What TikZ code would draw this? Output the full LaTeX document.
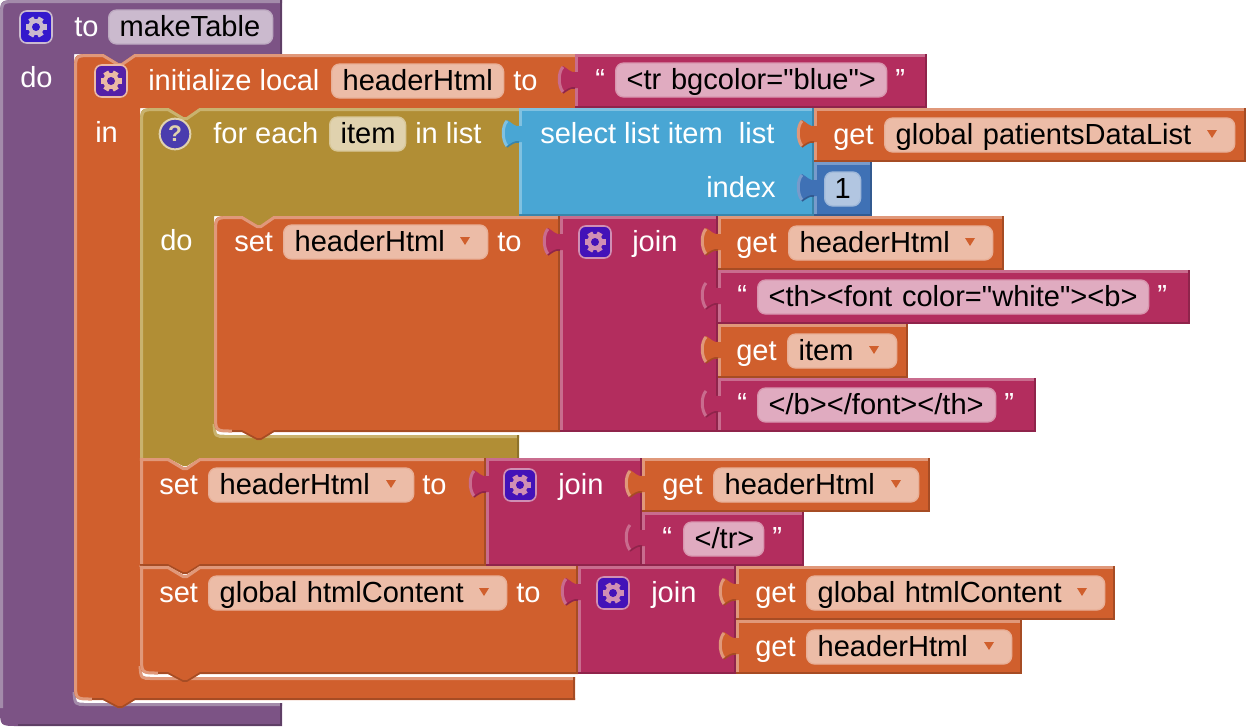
\documentclass[tikz,border=0pt]{standalone}
\usepackage{fontspec}
\newfontfamily\blockfamily{Liberation Sans}

\definecolor{purpleF}{HTML}{7C5385}
\definecolor{purpleL}{HTML}{A38BAA}
\definecolor{purpleD}{HTML}{5F3F66}
\definecolor{orangeF}{HTML}{D05F2D}
\definecolor{orangeL}{HTML}{E0987A}
\definecolor{orangeD}{HTML}{A64C24}
\definecolor{oliveF}{HTML}{B18E35}
\definecolor{oliveL}{HTML}{C9B26E}
\definecolor{oliveD}{HTML}{8E722A}
\definecolor{blueF}{HTML}{49A6D4}
\definecolor{blueL}{HTML}{80C1E1}
\definecolor{blueD}{HTML}{3A85AA}
\definecolor{pinkF}{HTML}{B32D5E}
\definecolor{pinkL}{HTML}{C96C8E}
\definecolor{pinkD}{HTML}{8F244B}
\definecolor{numberF}{HTML}{3F71B5}
\definecolor{numberL}{HTML}{789BCB}
\definecolor{numberD}{HTML}{325A90}
\definecolor{purpleField}{HTML}{CBBACE}
\definecolor{orangeField}{HTML}{ECBCA7}
\definecolor{oliveField}{HTML}{E0D2AE}
\definecolor{pinkField}{HTML}{E0ABC0}
\definecolor{numberField}{HTML}{B2C6E1}
\definecolor{gearPurple}{HTML}{3419CC}
\definecolor{gearOrange}{HTML}{5420A8}
\definecolor{gearPink}{HTML}{4312B8}
\definecolor{gearOrangeFg}{HTML}{EBBAA5}
\definecolor{gearPinkFg}{HTML}{D08FB4}
\definecolor{helpF}{HTML}{4A3CAE}

\newcommand{\blockfont}{\blockfamily\fontsize{21.8}{24}\selectfont}

\tikzset{
	blocklabel/.style={text=white,font=\blockfont,inner sep=0pt,text height=14.5pt,text depth=0pt,anchor=west},
	fieldtext/.style={text=black,font=\blockfont,inner xsep=0pt,inner ysep=0pt,text height=14.5pt,text depth=0pt,
		anchor=west,minimum height=25.5pt,rounded corners=6pt,align=left},
	quotemark/.style={blocklabel},
	iconbox/.style={minimum size=24pt,inner sep=0pt,rounded corners=5pt,line width=1.2pt},
	lightedge/.style={line width=2.25pt},
	darkedge/.style={line width=1.2pt},
}

% block with an output tab on its left side
\newcommand{\valueblock}[5]{
	\fill[#1F] (#2,#3) rectangle (#4,#5);
	\draw[#1L,lightedge] (#2,#3+1.5) -- (#4,#3+1.5);
	\draw[#1L,lightedge] (#2+1.5,#3) -- (#2+1.5,#5);
	\draw[#1D,darkedge] (#4-1,#3) -- (#4-1,#5);
	\draw[#1D,darkedge] (#2,#5-1) -- (#4,#5-1);
	\fill[#1F] (#2+3.5,#3+18) -- (#2,#3+18) .. controls (#2-4,#3+19) and (#2-8,#3+14) .. (#2-12,#3+12)
		.. controls (#2-18,#3+18) and (#2-18,#3+32) .. (#2-12,#3+39)
		.. controls (#2-8,#3+36) and (#2-4,#3+33) .. (#2,#3+34) -- (#2+3.5,#3+34) -- cycle;
	\draw[#1L,lightedge] (#2-12,#3+13) .. controls (#2-17,#3+18) and (#2-17,#3+32) .. (#2-12,#3+38);
	\draw[#1D,darkedge] (#2-12,#3+39) .. controls (#2-8,#3+36) and (#2-4,#3+33) .. (#2,#3+34);
}

% statement block, #6 and #7 give the top and bottom left corners
\newcommand{\stackblock}[7]{
	\fill[#1F] (#2,#3+#6) .. controls (#2,#3) .. (#2+#6,#3) -- (#2+28,#3) -- (#2+43,#3+9) -- (#2+47,#3+9) -- (#2+60,#3)
		-- (#4,#3) -- (#4,#5) -- (#2+60,#5) -- (#2+47,#5+8) -- (#2+43,#5+8) -- (#2+28,#5)
		-- (#2+#7,#5) .. controls (#2,#5) .. (#2,#5-#7) -- cycle;
	\draw[#1L,lightedge] (#2+#7,#5-1) .. controls (#2+1.5,#5-1) .. (#2+1.5,#5-#7) -- (#2+1.5,#3+#6)
		.. controls (#2+1.5,#3+1.5) .. (#2+#6,#3+1.5) -- (#2+28,#3+1.5) -- (#2+43,#3+10.5) -- (#2+47,#3+10.5)
		-- (#2+60,#3+1.5) -- (#4,#3+1.5);
	\draw[#1D,darkedge] (#4-1,#3) -- (#4-1,#5);
	\draw[#1D,darkedge] (#2+#7,#5-1) -- (#2+28,#5-1) -- (#2+43,#5+7) -- (#2+47,#5+7) -- (#2+60,#5-1) -- (#4,#5-1);
}

\newcommand{\inputfield}[6]{
	\node (#1) [fieldtext,fill=#2Field,draw=#2L!35!#2Field,line width=1pt,minimum width={(#4-#3)*0.75pt},
		text width={(#4-#3-22)*0.75pt}] at (#3,#5) {\mbox{#6}};
}

\newcommand{\dropfield}[6]{
	\inputfield{#1}{#2}{#3}{#4}{#5}{#6}
	\fill[#2F] (#4-27,#5-5) -- (#4-17,#5-5) -- (#4-22,#5+3) -- cycle;
}

\newcommand{\gearicon}[5]{
	\node (#1) [iconbox,fill=#4,draw=#5] at (#2,#3) {};
	\foreach \a in {30,90,...,330} {
		\fill[#5,shift={(#2,#3)},rotate=\a] (-2.8,-10.5) rectangle (2.8,0);
	}
	\fill[#5] (#2,#3) circle (6pt);
	\fill[#4] (#2,#3) circle (3pt);
}

\begin{document}
\begin{tikzpicture}[x=0.75pt,y=-0.75pt]
	\useasboundingbox (0,0) rectangle (1246,726);

	% procedure
	\fill[purpleF] (0,18) .. controls (0,0) .. (18,0) -- (282,0) -- (282,54) -- (135,54) -- (122,64) -- (118,64) -- (103,54)
		-- (74,54) -- (74,691) .. controls (74,703) .. (86,703) -- (282,703) -- (282,726) -- (18,726)
		.. controls (0,726) .. (0,708) -- cycle;
	\draw[purpleL,lightedge] (1.5,708) -- (1.5,18) .. controls (1.5,1.5) .. (18,1.5) -- (282,1.5);
	\draw[purpleL,lightedge] (74,692) .. controls (75,704.5) .. (86,704.5) -- (282,704.5);
	\draw[purpleD,darkedge] (281,0) -- (281,54);
	\draw[purpleD,darkedge] (281,703) -- (281,726);
	\draw[purpleD,darkedge] (18,725) -- (282,725);
	\gearicon{procgear}{36}{27}{gearPurple}{purpleField}
	\node (procto) [blocklabel] at (74,27) {to};
	\inputfield{procname}{purple}{108}{272}{27}{makeTable}
	\node (procdo) [blocklabel] at (20,78) {do};

	% initialize local
	\fill[orangeF] (74,72) .. controls (74,54) .. (92,54) -- (103,54) -- (118,63) -- (122,63) -- (135,54) -- (575,54)
		-- (575,108) -- (200,108) -- (187,118) -- (183,118) -- (168,108) -- (140,108) -- (140,665)
		.. controls (140,677) .. (152,677) -- (575,677) -- (575,700)
		-- (135,700) -- (122,708) -- (118,708) -- (103,700) -- (92,700) .. controls (74,700) .. (74,682) -- cycle;
	\draw[orangeL,lightedge] (92,699) .. controls (75.5,699) .. (75.5,682) -- (75.5,72) .. controls (75.5,55.5) .. (92,55.5)
		-- (103,55.5) -- (118,64.5) -- (122,64.5) -- (135,55.5) -- (575,55.5);
	\draw[orangeL,lightedge] (140,666) .. controls (141,678.5) .. (152,678.5) -- (575,678.5);
	\draw[orangeD,darkedge] (574,677) -- (574,700);
	\draw[orangeD,darkedge] (92,699) -- (103,699) -- (118,707) -- (122,707) -- (135,699) -- (575,699);
	\gearicon{localgear}{111}{81}{gearOrange}{gearOrangeFg}
	\node (locallabel) [blocklabel] at (148,81) {initialize local};
	\inputfield{localname}{orange}{331}{503}{81}{headerHtml}
	\node (localto) [blocklabel] at (513,81) {to};
	\node (localin) [blocklabel] at (95,133) {in};

	\valueblock{pink}{575}{54}{927}{108}
	\node (trquoteleft) [quotemark] at (595,80) {“};
	\inputfield{trtext}{pink}{615}{886}{80}{<tr bgcolor="blue">}
	\node (trquoteright) [quotemark] at (895,80) {”};

	% for each
	\fill[oliveF] (140,126) .. controls (140,108) .. (158,108) -- (168,108) -- (183,117) -- (187,117) -- (200,108) -- (519,108)
		-- (519,216) -- (274,216) -- (261,226) -- (257,226) -- (242,216) -- (214,216) -- (214,423)
		.. controls (214,435) .. (226,435) -- (519,435) -- (519,458)
		-- (200,458) -- (187,466) -- (183,466) -- (168,458) -- (140,458) -- cycle;
	\draw[oliveL,lightedge] (141.5,458) -- (141.5,126) .. controls (141.5,109.5) .. (158,109.5) -- (168,109.5)
		-- (183,118.5) -- (187,118.5) -- (200,109.5) -- (519,109.5);
	\draw[oliveL,lightedge] (214,424) .. controls (215,436.5) .. (226,436.5) -- (519,436.5);
	\draw[oliveD,darkedge] (518,435) -- (518,458);
	\node (helpicon) [circle,minimum size=23pt,inner sep=0pt,fill=helpF,draw=oliveField,line width=1.5pt,
		text=oliveField,font=\blockfamily\fontsize{17}{20}\selectfont\bfseries] at (175,134) {?};
	\node (foreachlabel) [blocklabel] at (213,134) {for each};
	\inputfield{itemname}{olive}{329}{405}{134}{item}
	\node (inlistlabel) [blocklabel] at (415,134) {in list};
	\node (foreachdo) [blocklabel] at (160,241) {do};

	\valueblock{blue}{519}{108}{814}{216}
	\node (selectlabel) [blocklabel] at (540,134) {select list item\ \ list};
	\node (indexlabel) [blocklabel] at (706,188) {index};
	\valueblock{orange}{814}{108}{1246}{162}
	\node (getpatients) [blocklabel] at (833,135) {get};
	\dropfield{patientsname}{orange}{884}{1234}{135}{global patientsDataList}
	\valueblock{number}{814}{162}{872}{216}
	\node (indexfield) [fieldtext,fill=numberField,draw=numberL!35!numberField,line width=1pt,minimum width=27pt,align=center,text width=27pt] at (824,189) {1};

	% first set
	\stackblock{orange}{214}{216}{560}{432}{18}{18}
	\node (setone) [blocklabel] at (234,242) {set};
	\dropfield{setonename}{orange}{283}{487}{242}{headerHtml}
	\node (setoneto) [blocklabel] at (497,242) {to};

	\valueblock{pink}{560}{216}{718}{432}
	\gearicon{joinonegear}{595}{242}{gearPink}{gearPinkFg}
	\node (joinone) [blocklabel] at (632,242) {join};
	\valueblock{orange}{718}{216}{1004}{270}
	\node (getheader) [blocklabel] at (736,243) {get};
	\dropfield{getheadername}{orange}{788}{992}{243}{headerHtml}
	\valueblock{pink}{718}{270}{1190}{324}
	\node (thquoteleft) [quotemark] at (737,296) {“};
	\inputfield{thtext}{pink}{757}{1148}{297}{<th><font color="white"><b>}
	\node (thquoteright) [quotemark] at (1157,296) {”};
	\valueblock{orange}{718}{324}{908}{378}
	\node (getitem) [blocklabel] at (736,351) {get};
	\dropfield{getitemname}{orange}{787}{896}{351}{item}
	\valueblock{pink}{718}{378}{1036}{432}
	\node (closequoteleft) [quotemark] at (737,404) {“};
	\inputfield{closetext}{pink}{757}{995}{405}{</b></font></th>}
	\node (closequoteright) [quotemark] at (1004,404) {”};

	% second set
	\stackblock{orange}{140}{458}{486}{566}{0}{0}
	\node (settwo) [blocklabel] at (159,485) {set};
	\dropfield{settwoname}{orange}{208}{413}{485}{headerHtml}
	\node (settwoto) [blocklabel] at (422,485) {to};

	\valueblock{pink}{486}{458}{642}{566}
	\gearicon{jointwogear}{520}{485}{gearPink}{gearPinkFg}
	\node (jointwo) [blocklabel] at (558,485) {join};
	\valueblock{orange}{642}{458}{930}{512}
	\node (gettwo) [blocklabel] at (662,485) {get};
	\dropfield{gettwoname}{orange}{713}{918}{485}{headerHtml}
	\valueblock{pink}{642}{512}{804}{566}
	\node (trendquoteleft) [quotemark] at (662,538) {“};
	\inputfield{trendtext}{pink}{683}{763}{539}{</tr>}
	\node (trendquoteright) [quotemark] at (772,538) {”};

	% third set
	\stackblock{orange}{140}{566}{578}{674}{0}{18}
	\node (setthree) [blocklabel] at (159,593) {set};
	\dropfield{setthreename}{orange}{208}{506}{593}{global htmlContent}
	\node (setthreeto) [blocklabel] at (516,593) {to};

	\valueblock{pink}{578}{566}{736}{674}
	\gearicon{jointhreegear}{613}{593}{gearPink}{gearPinkFg}
	\node (jointhree) [blocklabel] at (651,593) {join};
	\valueblock{orange}{736}{566}{1115}{620}
	\node (getglobal) [blocklabel] at (755,593) {get};
	\dropfield{getglobalname}{orange}{806}{1104}{593}{global htmlContent}
	\valueblock{orange}{736}{620}{1022}{674}
	\node (getlast) [blocklabel] at (755,647) {get};
	\dropfield{getlastname}{orange}{806}{1011}{647}{headerHtml}
\end{tikzpicture}
\end{document}
